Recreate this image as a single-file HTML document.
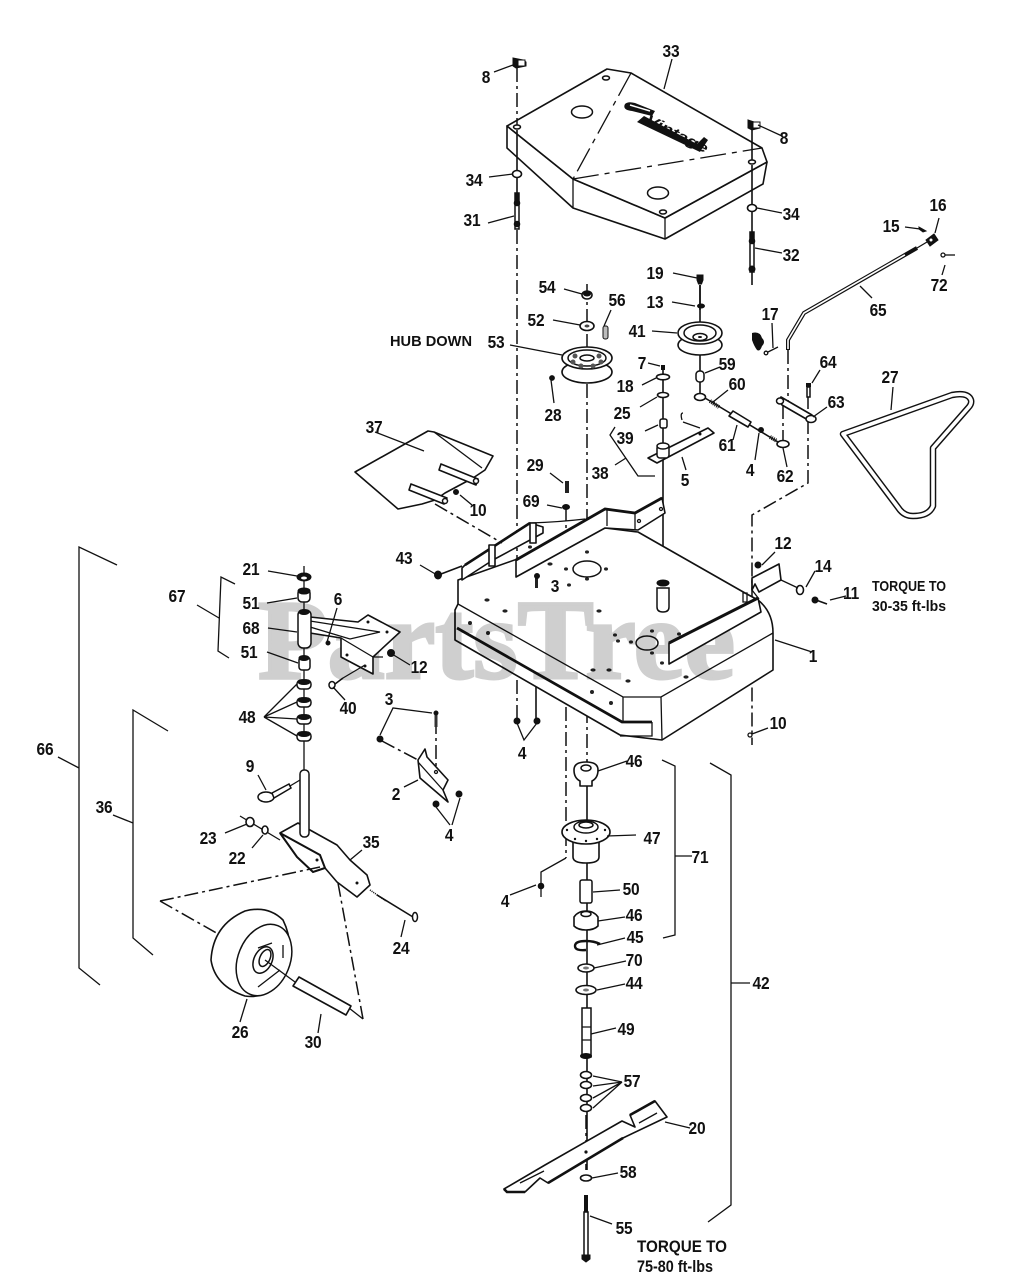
<!DOCTYPE html>
<html><head><meta charset="utf-8"><style>
html,body{margin:0;padding:0;background:#fff}
svg{display:block}
text{font-family:"Liberation Sans",sans-serif;font-weight:bold;font-size:18px;fill:#111;text-anchor:middle;letter-spacing:-.2px;transform-box:fill-box;transform-origin:center;transform:scaleX(.86)}
.wm{font-family:"Liberation Serif",serif;font-size:113px;fill:#cfcfcf;stroke:#cfcfcf;stroke-width:3;text-anchor:start;letter-spacing:0;transform:none}
.n{font-size:15px;letter-spacing:0;transform:none}
.b{font-size:16.500px;letter-spacing:0;transform:none}
.lg{font-size:14px;font-style:italic;transform:none;text-anchor:start;letter-spacing:0}
.l{fill:none;stroke:#111;stroke-width:1.300}
.p{fill:#fff;stroke:#111;stroke-width:1.600;stroke-linejoin:round}
.t{fill:#fff;stroke:#111;stroke-width:1.500}
.d{fill:none;stroke:#111;stroke-width:1.500;stroke-dasharray:14 4 3 4}
.a{fill:none;stroke:#111;stroke-width:1.600}
.k{fill:#111;stroke:#111}
</style></head><body>
<svg width="1017" height="1280" viewBox="0 0 1017 1280" xmlns="http://www.w3.org/2000/svg">
<!-- axes -->
<g>
<path class="d" d="M517 230V720"/>
<path class="d" d="M566 507V858"/>
<path class="d" d="M587 284V760"/>
<path class="a" d="M587 760V1170"/>
<path class="a" d="M536 590V720"/>
<path class="a" d="M700 285V395M663 367V455M663 455V588"/>
<path class="a" d="M752 205V285"/>
<path class="d" d="M788 350V402M783 405V444M808 395V483L752 515V745"/>
<path class="l" d="M566 858L541 872V897"/>
<path class="l" d="M304 566V770"/>
</g>
<!-- deck -->
<path class="p" d="M458 604V580L605 528 638 532 745 593 758 600Q773 612 773 633V670L662 740 620 735 455 640V610Z"/>
<path class="l" d="M458 604L623 697H661L773 633"/>
<path class="l" d="M623 697V722M661 697L662 740"/>
<path d="M457 628L622 722H652" fill="none" stroke="#111" stroke-width="2.800"/>
<path class="l" d="M652 722V736H620M455 612V640"/>
<g fill="#222">
<ellipse cx="487" cy="600" rx="2.600" ry="1.600"/><ellipse cx="505" cy="611" rx="2.600" ry="1.600"/><ellipse cx="470" cy="623" rx="2" ry="2"/><ellipse cx="488" cy="633" rx="2" ry="2"/><ellipse cx="550" cy="564" rx="2.600" ry="1.600"/><ellipse cx="530" cy="547" rx="2" ry="1.600"/><ellipse cx="566" cy="569" rx="2" ry="1.600"/><ellipse cx="587" cy="552" rx="2" ry="1.600"/><ellipse cx="606" cy="569" rx="2" ry="1.600"/><ellipse cx="569" cy="585" rx="2" ry="1.600"/><ellipse cx="587" cy="579" rx="2" ry="1.600"/><ellipse cx="599" cy="611" rx="2.600" ry="1.600"/><ellipse cx="615" cy="635" rx="2" ry="1.600"/><ellipse cx="618" cy="641" rx="2" ry="1.600"/><ellipse cx="631" cy="642" rx="2" ry="1.600"/><ellipse cx="652" cy="631" rx="2" ry="1.600"/><ellipse cx="679" cy="634" rx="2" ry="1.600"/><ellipse cx="672" cy="642" rx="2" ry="1.600"/><ellipse cx="652" cy="653" rx="2" ry="1.600"/><ellipse cx="662" cy="663" rx="2" ry="1.600"/><ellipse cx="593" cy="670" rx="2.600" ry="1.600"/><ellipse cx="609" cy="670" rx="2.600" ry="1.600"/><ellipse cx="628" cy="681" rx="2.600" ry="1.600"/><ellipse cx="592" cy="692" rx="2" ry="2"/><ellipse cx="611" cy="703" rx="2" ry="2"/><ellipse cx="686" cy="677" rx="2.600" ry="1.600"/>
</g>
<ellipse class="t" cx="587" cy="569" rx="14" ry="8"/>
<ellipse class="t" cx="647" cy="643" rx="11" ry="7"/>
<!-- watermark -->
<text class="wm" x="258" y="678" textLength="477" lengthAdjust="spacingAndGlyphs" style="mix-blend-mode:multiply">PartsTree</text>
<!-- channels -->
<path class="p" d="M462 580V568L465 565 530 523 543 527V533L493 560 462 580Z"/>
<path d="M465 565L530 523" stroke="#111" stroke-width="2.600" fill="none"/>
<path class="l" d="M530 523Q560 522 585 519"/>
<path class="p" d="M489 545H495V566H489ZM530 523H536V543H530Z"/>
<path class="p" d="M516 560L605 509 635 513 662 498 665 513 638 530 605 528 516 577Z"/>
<path d="M516 560L605 509 635 513 662 498" stroke="#111" stroke-width="2.800" fill="none"/>
<path class="l" d="M607 510V526M635 514V530"/>
<circle class="l" cx="661" cy="509" r="1.500"/><circle class="l" cx="639" cy="521" r="1.500"/>
<path class="p" d="M669 643L758 598 761 612 669 664Z"/>
<path d="M669 643L758 598" stroke="#111" stroke-width="3" fill="none"/>
<path class="p" d="M752 578L779 564 781 580 759 592 755 584 752 590Z"/>
<path class="l" d="M752 579V590L759 599M743 593H747V602H743Z"/>
<!-- spindle at deck top -->
<path class="t" d="M657 588V607Q657 612 663 612 669 612 669 607V588Z"/>
<ellipse class="k" cx="663" cy="583" rx="6" ry="3"/>
<!-- cover -->
<path class="p" d="M507 126V148L573 208 665 239 763 184 767 162 665 218 573 179Z"/>
<path class="p" d="M507 126L607 69 631 73 762 148 767 162 665 218 573 179Z"/>
<path class="l" d="M573 179V208M665 218V239"/>
<path class="l" stroke-dasharray="26 6 5 6" d="M631 73L573 179M573 179L762 148"/>
<ellipse class="t" cx="582" cy="112" rx="10.500" ry="6"/><ellipse class="t" cx="658" cy="193" rx="10.500" ry="6"/>
<ellipse class="t" cx="606" cy="78" rx="3.500" ry="2"/><ellipse class="t" cx="517" cy="127" rx="3.500" ry="2"/><ellipse class="t" cx="752" cy="162" rx="3.500" ry="2"/><ellipse class="t" cx="663" cy="212" rx="3.500" ry="2"/>
<path class="d" d="M517 68V125"/>
<path class="a" d="M517 130V196M752 130V160M752 165V205"/>
<!-- logo -->
<path d="M637 122L700 152 708 140 704 137 697 144 644 116Z" fill="#111"/>
<path d="M625 104Q628 101 635 103L655 111 652 116 632 111Q622 110 625 104Z" fill="#111"/>
<path d="M630 105L650 111" stroke="#fff" stroke-width="1.500" fill="none"/>
<g transform="translate(647 118) rotate(27)"><text class="lg" x="0" y="5" textLength="68" lengthAdjust="spacingAndGlyphs">Vintage</text></g>
<!-- 8 clips -->
<path class="k" d="M513 58L523 60 526 62V66L516 68 513 66Z"/><rect x="518" y="60" width="7" height="6" fill="#fff" stroke="#111"/>
<path class="k" d="M748 120L754 122 760 124V128L752 130 748 128Z"/><rect x="753" y="122" width="7" height="6" fill="#fff" stroke="#111"/>
<!-- 34 / 31 / 32 -->
<ellipse class="p" cx="517" cy="174" rx="4.500" ry="3.500"/><ellipse class="p" cx="752" cy="208" rx="4.500" ry="3.500"/>
<rect x="515" y="193" width="4" height="36" class="t"/><circle class="k" cx="517" cy="203" r="2.800"/><circle class="k" cx="517" cy="224" r="2.800"/><rect x="515.500" y="193" width="3" height="9" fill="#111"/>
<rect x="750" y="232" width="4" height="40" class="t"/><circle class="k" cx="752" cy="241" r="2.800"/><circle class="k" cx="752" cy="269" r="3"/><rect x="750.500" y="232" width="3" height="8" fill="#111"/>
<!-- pulley 53 -->
<ellipse class="p" cx="587" cy="372" rx="25" ry="11"/><ellipse class="p" cx="587" cy="358" rx="25" ry="11"/><ellipse class="t" cx="587" cy="358" rx="19" ry="8"/>
<ellipse class="t" cx="587" cy="358" rx="7" ry="3"/>
<g fill="#555"><circle cx="575" cy="356" r="2.500"/><circle cx="599" cy="356" r="2.500"/><circle cx="573" cy="362" r="2.500"/><circle cx="581" cy="366" r="2.500"/><circle cx="593" cy="366" r="2.500"/><circle cx="601" cy="362" r="2.500"/></g>
<circle class="k" cx="552" cy="378" r="2.400"/>
<ellipse class="p" cx="587" cy="295" rx="5" ry="4"/><ellipse fill="#111" cx="587" cy="294" rx="4" ry="2.500"/>
<ellipse class="p" cx="587" cy="326" rx="7" ry="4.500"/><ellipse fill="#444" cx="587" cy="326" rx="2.500" ry="1.500"/>
<rect x="603" y="326" width="5" height="13" rx="2" fill="#bbb" stroke="#111"/>
<!-- pulley 41 -->
<path class="a" d="M700 285V310"/>
<path class="k" d="M697 275H703V280L701.500 284H698.500L697 280Z"/><ellipse class="k" cx="701" cy="306" rx="3.500" ry="2"/>
<ellipse class="p" cx="700" cy="345" rx="22" ry="10"/><ellipse class="p" cx="700" cy="333" rx="22" ry="11"/><ellipse class="t" cx="700" cy="333" rx="16" ry="8"/><ellipse class="t" cx="700" cy="337" rx="7" ry="3.500"/><ellipse cx="700" cy="337" rx="2" ry="1" fill="#111"/>
<rect x="696" y="371" width="8" height="11" rx="3.500" class="t"/>
<ellipse class="p" cx="700" cy="397" rx="5.500" ry="3.500"/>
<!-- 7 18 25 -->
<rect x="661" y="365" width="4" height="5" fill="#111"/>
<ellipse class="p" cx="663" cy="377" rx="6.500" ry="2.800" stroke-width="2"/><ellipse class="p" cx="663" cy="395" rx="5.500" ry="2.500" stroke-width="2"/>
<rect x="660" y="419" width="7" height="9" rx="2" class="t"/>
<!-- plate 5 -->
<path class="p" d="M648 458L657 463 714 433 708 428Z" stroke-width="1.800"/>
<path class="l" d="M682 420Q680 413 683 413M683 422L700 428" stroke-width="1.700"/>
<rect x="657" y="445" width="12" height="13" rx="3" class="t"/><ellipse class="t" cx="663" cy="446" rx="6" ry="3"/>
<circle cx="700" cy="434" r="1.500" fill="#111"/>
<!-- rod -->
<path class="a" d="M705 398L778 442"/>
<path stroke="#111" stroke-width="4" stroke-dasharray="1 1" d="M710 401L719 407M770 437L777 441" fill="none"/>
<path class="p" d="M733 411L751 422 748 427 729 416Z"/>
<circle class="k" cx="761" cy="430" r="2.500"/>
<ellipse class="p" cx="783" cy="444" rx="6" ry="3.500"/>
<!-- arm 63, 64 -->
<path class="p" d="M781 397L812 415 808 420 782 405 779 400Z"/><ellipse class="t" cx="811" cy="419" rx="5" ry="3.500"/><ellipse class="t" cx="780" cy="401" rx="3.500" ry="3"/>
<rect x="806" y="383" width="5" height="4" fill="#111"/><rect x="807" y="387" width="3" height="10" class="t"/>
<!-- rod 65 -->
<path d="M788 350V340L804 313 917 248" fill="none" stroke="#111" stroke-width="4"/>
<path d="M788 349V340L804 313 916 248.500" fill="none" stroke="#fff" stroke-width="1.600"/>
<path d="M905 255L917 248" stroke="#111" stroke-width="3" fill="none"/>
<path class="l" d="M917 248L927 242"/>
<path class="k" d="M926 240L934 234 938 240 930 246Z"/><circle fill="#fff" cx="931" cy="240" r="1.500"/>
<path class="k" d="M919 227L926 231 923 232 919 229Z"/>
<circle class="l" cx="943" cy="255" r="2"/><path class="l" d="M945 255H955"/>
<!-- 17 -->
<path d="M752 333Q760 331 762 338 766 342 762 346 760 352 757 350 754 346 752 340Z" fill="#111"/>
<circle class="l" cx="766" cy="353" r="1.800"/><path class="l" d="M768 352L778 347"/>
<!-- belt 27 -->
<path d="M843 434L952 395Q968 392 971 400 972 404 968 408L933 448V506Q929 516 913 516 905 516 900 510Z" fill="#fff" stroke="#111" stroke-width="6.500" stroke-linejoin="round"/>
<path d="M843 434L952 395Q968 392 971 400 972 404 968 408L933 448V506Q929 516 913 516 905 516 900 510Z" fill="none" stroke="#fff" stroke-width="3.600" stroke-linejoin="round"/>
<!-- chute 37 -->
<path class="p" d="M355 472L428 431 434 432 493 456 485 470 473 478 445 493 435 500 422 504 398 509Z" stroke-width="1.800"/>
<path class="l" d="M434 432L482 468"/>
<path class="p" d="M441 464L478 479 476 485 439 470Z"/>
<path class="p" d="M411 484L447 498 444 504 409 490Z"/>
<circle class="t" cx="476" cy="481" r="2.500"/><circle class="t" cx="445" cy="501" r="2.500"/>
<path class="d" d="M435 504L502 543"/>
<circle class="k" cx="456" cy="492" r="2.500"/>
<!-- 43 / 12 / 14 / 11 / 29 / 69 / 3 -->
<path class="a" d="M441 574L462 566" stroke-width="3"/><ellipse class="k" cx="438" cy="575" rx="3.500" ry="4"/>
<circle class="k" cx="758" cy="565" r="3"/>
<ellipse class="p" cx="800" cy="590" rx="3.500" ry="4.500" stroke-width="1.800"/>
<path class="a" d="M816 600L827 604" stroke-width="3"/><circle class="k" cx="815" cy="600" r="3"/>
<path class="l" d="M781 580L798 588"/>
<rect x="565" y="481" width="4" height="12" fill="#222"/><ellipse class="k" cx="566" cy="507" rx="3.500" ry="2.500"/>
<rect x="535" y="574" width="3" height="14" fill="#222"/><circle class="k" cx="537" cy="576" r="2.500"/>
<circle class="k" cx="517" cy="721" r="3"/><circle class="k" cx="537" cy="721" r="3"/>
<circle class="l" cx="750" cy="735" r="2"/>
<!-- left assembly -->
<ellipse class="k" cx="304" cy="577" rx="7" ry="4"/><ellipse fill="#fff" cx="304" cy="578" rx="3" ry="1.500"/>
<rect x="298" y="589" width="12" height="13" rx="4" class="t"/><ellipse class="k" cx="304" cy="591" rx="6" ry="3"/>
<path class="p" d="M310 617L358 622 368 615 400 632 373 657V674L341 657V638L310 633Z"/>
<path class="l" d="M310 621L380 632 350 639 310 627M373 657L341 638M373 657H383"/>
<circle cx="368" cy="622" r="1.500" fill="#111"/><circle cx="387" cy="632" r="1.500" fill="#111"/><circle cx="347" cy="655" r="1.500" fill="#111"/><circle cx="365" cy="666" r="1.500" fill="#111"/>
<rect x="298" y="610" width="13" height="38" rx="5" class="t"/><ellipse class="k" cx="304" cy="612" rx="5" ry="2.500"/>
<circle class="k" cx="328" cy="643" r="2"/><circle class="k" cx="391" cy="653" r="3.500"/>
<rect x="299" y="657" width="11" height="13" rx="3" class="t"/><ellipse class="k" cx="304" cy="658" rx="5" ry="2.500"/>
<path class="l" d="M365 665L343 678"/>
<path class="a" d="M335 684L343 678" stroke-width="3"/><ellipse class="t" cx="332" cy="685" rx="3" ry="3.500"/>
<g><rect x="297" y="680" width="14" height="9" rx="4" class="t"/><rect x="297" y="698" width="14" height="9" rx="4" class="t"/><rect x="297" y="715" width="14" height="9" rx="4" class="t"/><rect x="297" y="732" width="14" height="9" rx="4" class="t"/></g>
<ellipse class="k" cx="304" cy="682" rx="6" ry="2.500"/><ellipse class="k" cx="304" cy="700" rx="6" ry="2.500"/><ellipse class="k" cx="304" cy="717" rx="6" ry="2.500"/><ellipse class="k" cx="304" cy="734" rx="6" ry="2.500"/>
<!-- fork -->
<path class="p" d="M280 833L298 823 310 830 337 845 350 860 367 875 370 885 357 897 337 882 325 868 313 872 297 857Z"/>
<path d="M280 833L320 855 325 868 313 872 297 857Z" fill="#fff" stroke="#111" stroke-width="2"/>
<circle cx="317" cy="860" r="1.500" fill="#111"/><circle cx="357" cy="883" r="1.500" fill="#111"/>
<rect x="300" y="770" width="9" height="67" rx="4" class="t"/>
<ellipse class="t" cx="266" cy="797" rx="8" ry="5"/>
<path class="t" d="M272 793L289 784 291 788 274 798Z"/><path class="l" d="M290 786L300 780"/>
<path class="l" d="M240 816L280 840"/>
<ellipse class="p" cx="250" cy="822" rx="4" ry="4.500"/><ellipse class="p" cx="265" cy="830" rx="3" ry="4"/>
<path class="d" d="M160 901L320 867M160 901L220 935M338 883L363 1019"/>
<path class="l" d="M363 1019L349 1008"/>
<!-- wheel -->
<path class="p" d="M211 960Q213 925 245 911 268 905 283 920 294 942 287 968 274 1000 245 996 215 986 211 960Z"/>
<ellipse class="t" cx="264" cy="960" rx="26" ry="37" transform="rotate(22 264 960)"/>
<ellipse class="t" cx="263" cy="960" rx="9" ry="14" transform="rotate(25 263 960)"/><ellipse class="t" cx="265" cy="958" rx="5" ry="9" transform="rotate(25 265 958)"/>
<path class="l" d="M258 948L272 943M258 987L280 970M283 945V958"/>
<path class="l" d="M265 960L295 982"/>
<path class="p" d="M299 977L351 1006 346 1015 293 986Z"/>
<path class="a" d="M377 895L413 917" stroke-width="3"/><path class="a" d="M370 890L386 901" stroke-width="4" stroke-dasharray="1 1"/><ellipse class="t" cx="415" cy="917" rx="2.500" ry="4.500"/>
<!-- bracket 2 -->
<path class="p" d="M418 760L425 749 427 757 448 780 443 790 448 802 420 778Z"/>
<path class="l" d="M418 762L443 790"/>
<circle class="l" cx="436" cy="772" r="1.500"/>
<path class="d" d="M382 741L418 760M436 720V770"/>
<rect x="434.500" y="714" width="3" height="13" fill="#333"/><circle class="k" cx="436" cy="713" r="2"/>
<circle class="k" cx="380" cy="739" r="3"/>
<circle class="k" cx="436" cy="804" r="3"/><circle class="k" cx="459" cy="794" r="3"/>
<!-- spindle -->
<path class="p" d="M574 770Q574 762 586 762 598 762 598 770 598 778 592 781V786H580V781Q574 778 574 770Z"/><ellipse class="t" cx="586" cy="768" rx="5" ry="3"/>
<path class="p" d="M573 835H599V857Q599 863 586 863 573 863 573 857Z"/>
<ellipse class="p" cx="586" cy="832" rx="24" ry="12"/><ellipse class="t" cx="586" cy="827" rx="12" ry="6"/><ellipse class="t" cx="586" cy="825" rx="7" ry="3"/>
<g fill="#111"><circle cx="567" cy="830" r="1.200"/><circle cx="575" cy="839" r="1.200"/><circle cx="586" cy="841" r="1.200"/><circle cx="597" cy="839" r="1.200"/><circle cx="605" cy="830" r="1.200"/></g>
<circle class="k" cx="541" cy="886" r="2.800"/>
<rect x="580" y="880" width="12" height="23" rx="2" class="t"/>
<path class="p" d="M574 917Q578 911 586 911 594 911 598 917V926Q594 930 586 930 578 930 574 926Z"/><ellipse class="t" cx="586" cy="914" rx="5" ry="2.500"/>
<path d="M600 944Q594 941 586 941 575 941 575 946 575 951 586 950" fill="none" stroke="#111" stroke-width="2.400"/>
<ellipse class="p" cx="586" cy="968" rx="8" ry="4"/><ellipse fill="#777" cx="586" cy="968" rx="3" ry="1.500"/>
<ellipse class="p" cx="586" cy="990" rx="10" ry="4.500" stroke-width="2.200"/><ellipse fill="#777" cx="586" cy="990" rx="3" ry="1.500"/>
<rect x="582" y="1008" width="9" height="49" class="t"/><path class="l" d="M582 1027H591M582 1040H591"/><ellipse class="k" cx="586" cy="1056" rx="5.500" ry="2.500"/>
<ellipse class="p" cx="586" cy="1075" rx="5.500" ry="3.500" stroke-width="2.200"/><ellipse class="p" cx="586" cy="1085" rx="5.500" ry="3.500" stroke-width="2.200"/><ellipse class="p" cx="586" cy="1098" rx="5.500" ry="3.500" stroke-width="2.200"/><ellipse class="p" cx="586" cy="1108" rx="5.500" ry="3.500" stroke-width="2.200"/>
<path class="d" d="M586 1115V1150"/>
<!-- blade -->
<path class="p" d="M504 1189L545 1165 622 1121 635 1127 630 1115 655 1101 667 1117 623 1138 548 1183 540 1178 525 1192 507 1192Z"/>
<path d="M630 1115L655 1101M548 1183L623 1138M504 1189L507 1192H525" stroke="#111" stroke-width="2.600" fill="none"/>
<path class="l" d="M520 1183L544 1171M639 1123L657 1113"/>
<circle cx="586" cy="1152" r="1.600" fill="#111"/>
<path class="a" d="M586 1164V1170"/>
<ellipse class="p" cx="586" cy="1178" rx="5.500" ry="3" stroke-width="2"/>
<rect x="584" y="1212" width="4" height="44" class="t"/><rect x="584" y="1195" width="4" height="17" fill="#111"/>
<path class="k" d="M582 1255H590V1259L586 1262 582 1259Z"/>
<!-- leaders -->
<path class="l" d="M494 72L513 65M489 177L513 174M488 223L514 216M758 125L782 136M757 208L782 213M755 248L782 253M672 59L664 89
M905 227L920 229M939 218L935 233M945 265L942 275M872 298L860 286M772 323L773 348M893 387L891 410
M673 273L697 278M672 302L695 306M564 289L582 294M553 320L580 325M611 310L604 326M652 331L677 333M510 345L562 355
M551 380L554 403M648 363L660 366M642 385L656 378M640 407L657 397M645 431L658 425M720 367L705 373M728 390L713 402M733 440L737 425M755 460L759 433M787 467L783 448M820 370L812 383M827 407L813 417M686 470L682 457
M375 432L424 451M472 505L460 495M550 473L563 483M547 505L562 508M420 565L437 575M775 552L762 565M815 571L806 587M846 596L830 600
M268 571L297 576M267 603L297 598M268 628L297 632M267 652L298 663M337 608L327 642M410 665L392 654M812 652L775 640M345 700L333 687
M264 717L297 684M264 717L297 702M264 717L297 719M264 717L297 736
M380 735L393 708 432 713M768 728L752 734M627 761L598 771M258 775L266 790M404 787L418 780M450 825L436 807M452 825L460 798M517 723L524 740 537 723M536 885L510 895
M225 833L247 824M252 848L263 835M362 850L350 860M636 835L607 836M620 890L593 892M625 917L598 921M625 938L597 945M626 961L594 968M625 984L597 990M616 1028L591 1034M401 937L405 920M240 1022L247 999M318 1033L321 1014M622 1082L593 1076M622 1082L593 1086M622 1082L593 1098M622 1082L593 1108M690 1128L665 1122M618 1173L592 1178M612 1224L590 1216"/>
<path class="l" d="M235 584L221 577 218 651 229 658M197 605L219 618M117 565L79 547V968L100 985M58 757L79 768M168 731L133 710V938L153 955M113 815L133 823M662 760L675 766V935L663 938M675 856H692M710 763L731 775V1205L708 1222M731 983H750M615 427L610 435 638 476H655M615 465L626 458"/>
<!-- labels -->
<text x="486" y="83">8</text><text x="671" y="57">33</text><text x="784" y="144">8</text><text x="474" y="186">34</text><text x="472" y="226">31</text><text x="791" y="220">34</text><text x="791" y="261">32</text><text x="938" y="211">16</text><text x="891" y="232">15</text><text x="939" y="291">72</text><text x="878" y="316">65</text><text x="655" y="279">19</text><text x="655" y="308">13</text><text x="547" y="293">54</text><text x="617" y="306">56</text><text x="536" y="326">52</text><text x="637" y="337">41</text><text x="770" y="320">17</text>
<text class="n" x="431" y="346" textLength="82" lengthAdjust="spacingAndGlyphs">HUB DOWN</text>
<text x="496" y="348">53</text><text x="642" y="369">7</text><text x="727" y="370">59</text><text x="828" y="368">64</text><text x="625" y="392">18</text><text x="737" y="390">60</text><text x="890" y="383">27</text><text x="836" y="408">63</text><text x="553" y="421">28</text><text x="622" y="419">25</text><text x="625" y="444">39</text><text x="727" y="451">61</text><text x="750" y="476">4</text><text x="600" y="479">38</text><text x="685" y="486">5</text><text x="785" y="482">62</text><text x="374" y="433">37</text><text x="535" y="471">29</text><text x="531" y="507">69</text><text x="478" y="516">10</text><text x="404" y="564">43</text><text x="783" y="549">12</text><text x="823" y="572">14</text><text x="851" y="599">11</text>
<text class="n" x="909" y="591" textLength="74" lengthAdjust="spacingAndGlyphs">TORQUE TO</text><text class="n" x="909" y="611" textLength="74" lengthAdjust="spacingAndGlyphs">30-35 ft-lbs</text>
<text x="251" y="575">21</text><text x="555" y="592">3</text><text x="177" y="602">67</text><text x="251" y="609">51</text><text x="338" y="605">6</text><text x="251" y="634">68</text><text x="249" y="658">51</text><text x="419" y="673">12</text><text x="813" y="662">1</text><text x="348" y="714">40</text><text x="247" y="723">48</text><text x="389" y="705">3</text><text x="778" y="729">10</text><text x="45" y="755">66</text><text x="522" y="759">4</text><text x="634" y="767">46</text><text x="250" y="772">9</text><text x="396" y="800">2</text><text x="104" y="813">36</text><text x="449" y="841">4</text><text x="652" y="844">47</text><text x="208" y="844">23</text><text x="237" y="864">22</text><text x="371" y="848">35</text><text x="700" y="863">71</text><text x="505" y="907">4</text><text x="631" y="895">50</text><text x="634" y="921">46</text><text x="401" y="954">24</text><text x="635" y="943">45</text><text x="634" y="966">70</text><text x="761" y="989">42</text><text x="634" y="989">44</text><text x="240" y="1038">26</text><text x="313" y="1048">30</text><text x="626" y="1035">49</text><text x="632" y="1087">57</text><text x="697" y="1134">20</text><text x="628" y="1178">58</text><text x="624" y="1234">55</text>
<text class="b" x="682" y="1252" textLength="90" lengthAdjust="spacingAndGlyphs">TORQUE TO</text><text class="b" x="675" y="1272" textLength="76" lengthAdjust="spacingAndGlyphs">75-80 ft-lbs</text>
</svg>
</body></html>
